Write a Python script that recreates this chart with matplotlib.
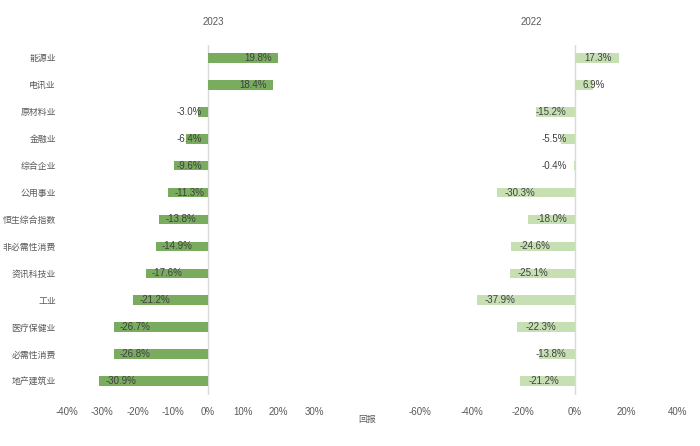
import matplotlib
matplotlib.use('Agg')
import matplotlib.pyplot as plt
import numpy as np

plt.rcParams['font.family'] = ['Liberation Sans', 'Noto Sans CJK SC', 'DejaVu Sans']

categories = ['能源业', '电讯业', '原材料业', '金融业', '综合企业', '公用事业', '恒生综合指数',
              '非必需性消费', '资讯科技业', '工业', '医疗保健业', '必需性消费', '地产建筑业']
ret_2023 = [19.8, 18.4, -3.0, -6.4, -9.6, -11.3, -13.8, -14.9, -17.6, -21.2, -26.7, -26.8, -30.9]
ret_2022 = [17.3, 6.9, -15.2, -5.5, -0.4, -30.3, -18.0, -24.6, -25.1, -37.9, -22.3, -13.8, -21.2]

ticks_2023 = [-40, -30, -20, -10, 0, 10, 20, 30]
ticks_2022 = [-60, -40, -20, 0, 20, 40]

text_color = '#404040'
tick_color = '#595959'

fig = plt.figure(figsize=(7, 4.46), dpi=100)
ax1 = fig.add_axes([67 / 700, 1 - 394.5 / 446, 247 / 700, 350 / 446])
ax2 = fig.add_axes([420 / 700, 1 - 394.5 / 446, 258 / 700, 350 / 446])

panels = [
    (ax1, ret_2023, ticks_2023, '#79AC5E', 6),
    (ax2, ret_2022, ticks_2022, '#C6E0B4', 8),
]

y = np.arange(len(categories))
for ax, vals, ticks, color, pad_px in panels:
    ax.barh(y, vals, height=0.36, color=color, zorder=2)
    ax.set_xlim(ticks[0], ticks[-1])
    ax.set_ylim(len(categories) - 0.5, -0.5)
    ax.set_xticks(ticks)
    ax.set_xticklabels([f'{t}%' for t in ticks], fontsize=7, color=tick_color)
    ax.tick_params(axis='x', length=0, pad=9)
    ax.axvline(0, color='#D9D9D9', linewidth=1, zorder=1)
    for s in ax.spines.values():
        s.set_visible(False)

    # Excel-like "inside end" label placement
    px_per_unit = ax.get_position().width * 700 / (ticks[-1] - ticks[0])
    pad = pad_px / px_per_unit
    w = 27 / px_per_unit
    for yi, v in zip(y, vals):
        lab = f'{v:.1f}%'
        if abs(v) >= w + 2 * pad:
            if v < 0:
                ax.text(v + pad, yi, lab, ha='left', va='center', fontsize=7, color=text_color, zorder=3)
            else:
                ax.text(v - pad, yi, lab, ha='right', va='center', fontsize=7, color=text_color, zorder=3)
        else:
            if v < 0:
                ax.text(-pad, yi, lab, ha='right', va='center', fontsize=7, color=text_color, zorder=3)
            else:
                ax.text(pad, yi, lab, ha='left', va='center', fontsize=7, color=text_color, zorder=3)

ax1.set_yticks(y)
ax1.set_yticklabels(categories, fontsize=6.4, color=tick_color)
ax1.tick_params(axis='y', length=0, pad=8)
ax2.set_yticks([])

fig.text(213 / 700, 1 - 22 / 446, '2023', ha='center', va='center', fontsize=7, color=tick_color)
fig.text(531 / 700, 1 - 22 / 446, '2022', ha='center', va='center', fontsize=7, color=tick_color)
fig.text(367 / 700, 1 - 419 / 446, '回报', ha='center', va='center', fontsize=6.4, color=tick_color)

fig.savefig('out.png', dpi=100)
